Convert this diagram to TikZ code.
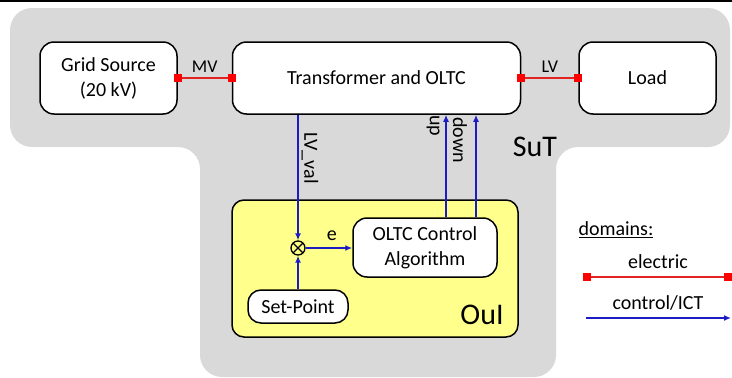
\documentclass[tikz,border=0pt]{standalone}
\usepackage{fontspec}
\setmainfont{Carlito}
\usetikzlibrary{arrows.meta,positioning,backgrounds}
\definecolor{sutgrey}{HTML}{D9D9D9}
\definecolor{ouiyellow}{HTML}{FFFF8C}
\definecolor{elred}{HTML}{E52222}
\definecolor{ctlblue}{HTML}{1C1CC4}
\tikzset{
  blk/.style    = {rectangle, rounded corners=14pt, draw=black, fill=white, line width=1.5pt,
                   align=center, font=\fontsize{20}{25}\selectfont, inner sep=2pt},
  elec/.style   = {draw=elred, line width=1.5pt, shorten <=-4pt, shorten >=-4pt,
                   {Square[length=8pt,width=8pt,color=red]}-{Square[length=8pt,width=8pt,color=red]}},
  ctl/.style    = {-{Latex[length=7pt,width=6pt]}, draw=ctlblue, line width=1.5pt},
  mixer/.style  = {circle, draw=black, line width=1.3pt, minimum size=14pt, inner sep=0pt,
                   path picture={\draw[line width=1.3pt]
                     (path picture bounding box.north west) -- (path picture bounding box.south east)
                     (path picture bounding box.north east) -- (path picture bounding box.south west);}},
  lbl/.style    = {font=\fontsize{20}{24}\selectfont, inner sep=1pt},
  smlbl/.style  = {font=\fontsize{18}{21}\selectfont, inner sep=1pt},
  biglbl/.style = {font=\fontsize{30}{36}\selectfont, inner sep=0pt},
}
\begin{document}
\begin{tikzpicture}[x=1pt, y=-1pt]
\useasboundingbox (0,0) rectangle (732,378);
\draw[line width=2pt] (0,1) -- (732,1);
% SuT area
\fill[sutgrey, rounded corners=22pt] (10,8) -- (730,8) -- (730,147) -- (556,147) -- (556,377)
  -- (200,377) -- (200,147) -- (10,147) -- cycle;
\node[blk, minimum width=137pt, minimum height=72pt] (grid) at (108.5,78) {Grid Source\\(20 kV)};
\node[blk, minimum width=288pt, minimum height=72pt, right=54pt of grid] (trafo) {Transformer and OLTC};
\node[blk, minimum width=137pt, minimum height=72pt, right=57pt of trafo] (load) {Load};
\node[biglbl] (sut) at (535,147) {SuT};
% OuI
\node[rectangle, rounded corners=12pt, draw=black, fill=ouiyellow, line width=1.5pt,
  minimum width=286pt, minimum height=137pt] (oui) at (375,268.5) {};
\node[biglbl] (ouilbl) at (482,315) {OuI};
\node[blk, minimum width=144pt, minimum height=59pt] (ctrl) at (425,247.5) {OLTC Control\\Algorithm};
\node[blk, rounded corners=13pt, minimum width=100pt, minimum height=33pt] (setpt) at (298,306.5) {Set-Point};
\node[mixer] (mix) at (298,248) {};
% edges
\draw[elec] (grid.east) -- node[smlbl, above=4pt]{MV} (trafo.west);
\draw[elec] (trafo.east) -- node[smlbl, above=4pt]{LV} (load.west);
\draw[ctl] (mix |- trafo.south) -- (mix.north);
\draw[ctl] (setpt.north) -- (mix.south);
\draw[ctl] (mix.east) -- node[lbl, above=6pt, xshift=3pt]{e} (mix.east -| ctrl.west);
\draw[ctl] ([xshift=21pt]ctrl.north) -- ([xshift=21pt]ctrl.north |- trafo.south);
\draw[ctl] ([xshift=51pt]ctrl.north) -- ([xshift=51pt]ctrl.north |- trafo.south);
\node[lbl, rotate=-90] (lvval) at (310,158) {LV\_val};
\node[lbl, rotate=-90] (uplbl) at (433,126) {up};
\node[lbl, rotate=-90] (dnlbl) at (460,140) {down};
% legend
\node[lbl] (dom) at (616,230) {\underline{domains:}};
\node[lbl] (elleg) at (658,262) {electric};
\node[lbl] (ctleg) at (658,303) {control/ICT};
\coordinate (elA) at (587,277);
\coordinate (elB) at (728,277);
\coordinate (ctA) at (586,318);
\coordinate (ctB) at (731,318);
\draw[elec] (elA) -- (elB);
\draw[ctl] (ctA) -- (ctB);
\end{tikzpicture}
\end{document}
